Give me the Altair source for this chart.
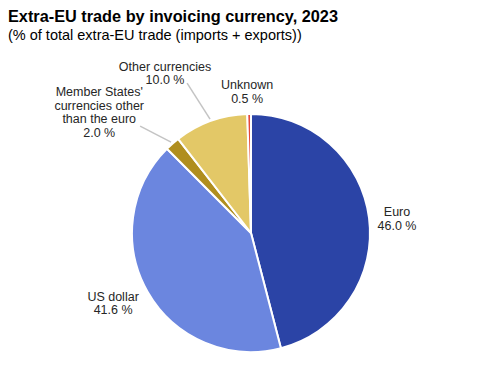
import altair as alt
import pandas as pd

# ---- data ----
categories = ["Euro", "US dollar", "Member States' currencies other than the euro",
              "Other currencies", "Unknown"]
labels = ["Euro\n46.0 %", "US dollar\n41.6 %",
          "Member States'\ncurrencies other\nthan the euro\n2.0 %",
          "Other currencies\n10.0 %", "Unknown\n0.5 %"]
values = [46.0, 41.6, 2.0, 10.0, 0.5]
order = [0, 1, 2, 3, 4]
colors = ["#2b44a6", "#6b86df", "#b08e1e", "#e3c867", "#e5483a"]

# ---- label layout (style): angle offset (deg) and radius (px) of first line ----
lab_dang = [-0.9, 4.9, -5.8, -7.6, -0.6]
lab_r = [147.5, 152, 207, 187, 148]
# leader lines: inner radius, outer radius, outer angle offset (deg)
lead_in = [0, 0, 121, 121, 0]
lead_out = [0, 0, 154, 163, 0]
lead_dang = [0, 0, -4.7, -3.3, 0]
has_lead = [False, False, True, True, False]

df = pd.DataFrame({
    "category": categories, "label": labels, "value": values, "order": order,
    "lab_dang": lab_dang, "lab_r": lab_r,
    "lead_in": lead_in, "lead_out": lead_out, "lead_dang": lead_dang,
    "has_lead": has_lead,
})

W, H = 482, 250
R = 119

base = alt.Chart(df)

color = alt.Color("category:N", scale=alt.Scale(domain=categories, range=colors), legend=None)

pie = base.mark_arc(outerRadius=R, stroke="white", strokeWidth=2).encode(
    theta=alt.Theta("value:Q", stack=True),
    color=color,
    order=alt.Order("order:Q"),
)

xs = alt.Scale(domain=[-W / 2, W / 2], range=[0, W], nice=False, zero=False)
ys = alt.Scale(domain=[-H / 2, H / 2], range=[H, 0], nice=False, zero=False)

polar = (
    base.transform_window(cum="sum(value)", sort=[alt.SortField("order")])
    .transform_joinaggregate(total="sum(value)")
    .transform_calculate(mid="(datum.cum - datum.value/2) / datum.total * 2 * PI")
)

text = polar.transform_calculate(
    a="datum.mid + datum.lab_dang * PI / 180"
).transform_calculate(
    lx="datum.lab_r * sin(datum.a)", ly="datum.lab_r * cos(datum.a)"
).mark_text(
    font="Liberation Sans", fontSize=12.5, lineBreak="\n", lineHeight=13.5,
    align="center", baseline="middle", color="#262626"
).encode(
    x=alt.X("lx:Q", scale=xs, axis=None),
    y=alt.Y("ly:Q", scale=ys, axis=None),
    text="label:N",
)

leaders = polar.transform_filter("datum.has_lead").transform_calculate(
    a2="datum.mid + datum.lead_dang * PI / 180"
).transform_calculate(
    x1="datum.lead_in * sin(datum.mid)", y1="datum.lead_in * cos(datum.mid)",
    x2="datum.lead_out * sin(datum.a2)", y2="datum.lead_out * cos(datum.a2)",
).mark_rule(color="#c4c4c4", strokeWidth=1.5).encode(
    x=alt.X("x1:Q", scale=xs, axis=None),
    y=alt.Y("y1:Q", scale=ys, axis=None),
    x2="x2:Q",
    y2="y2:Q",
)

chart = alt.layer(pie, leaders, text).properties(
    width=W, height=H,
    autosize=alt.AutoSizeParams(type="none"),
    padding={"left": 2, "top": 100, "right": 0, "bottom": 0},
    title=alt.TitleParams(
        text="Extra-EU trade by invoicing currency, 2023",
        subtitle="(% of total extra-EU trade (imports + exports))",
        anchor="start", frame="group", dx=-2, offset=18,
        font="Liberation Sans", fontSize=16.3, fontWeight="bold", color="#000000",
        subtitleFont="Liberation Sans", subtitleFontSize=14.5, subtitleColor="#000000",
        subtitlePadding=4,
    ),
).configure_view(stroke=None)

chart.save("out.html", embed_options={"renderer": "svg", "actions": False})
